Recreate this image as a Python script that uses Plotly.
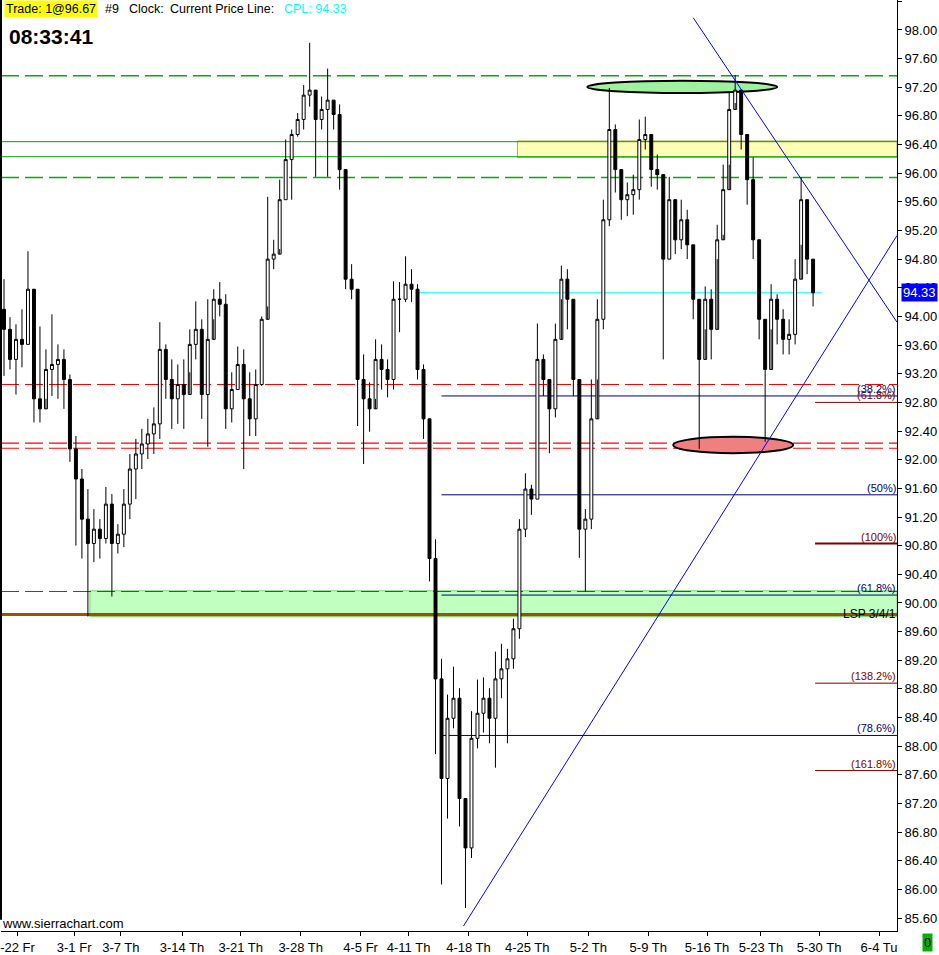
import plotly.graph_objects as go

# ---------------- data ----------------
first_open = 94.10
highs = [94.52, 93.99, 93.89, 94.10, 94.91, 94.24, 93.86, 93.54, 94.03, 93.61,
         93.54, 93.19, 92.33, 91.87, 91.59, 91.31, 91.17, 91.62, 91.52, 91.10,
         91.59, 92.08, 92.29, 92.43, 92.57, 92.73, 93.92, 93.61, 93.40, 93.33,
         93.40, 93.82, 94.21, 93.96, 94.24, 94.38, 94.48, 94.31, 93.22, 93.58,
         93.54, 93.22, 93.26, 94.00, 95.67, 95.07, 95.91, 96.47, 96.61, 96.84,
         97.23, 97.82, 97.16, 97.07, 97.46, 97.02, 96.96, 96.05, 94.73, 94.38,
         93.47, 93.08, 93.68, 93.61, 93.40, 94.49, 94.48, 94.84, 94.66, 94.45,
         93.33, 92.43, 90.89, 89.22, 88.72, 89.11, 88.81, 87.27, 88.49, 88.93,
         88.96, 88.81, 89.32, 89.43, 89.36, 89.78, 91.17, 91.81, 91.65, 93.90,
         93.47, 93.12, 93.90, 94.71, 94.66, 94.24, 93.12, 91.31, 93.12, 94.24,
         95.63, 97.19, 96.68, 95.98, 95.87, 95.98, 96.75, 96.79, 96.33, 96.26,
         95.91, 95.95, 95.42, 95.63, 95.49, 95.00, 93.96, 94.42, 94.38, 95.28,
         96.12, 97.12, 97.37, 97.16, 96.26, 96.22, 94.80, 93.82, 94.45, 94.31,
         94.10, 93.96, 94.80, 95.94, 95.49, 94.80]
lows = [93.17, 93.26, 92.91, 93.29, 93.61, 92.52, 92.52, 92.85, 92.89, 92.85,
        92.71, 91.97, 90.80, 90.62, 89.81, 90.57, 90.62, 90.83, 90.09, 90.69,
        90.78, 91.17, 91.45, 91.87, 92.01, 92.08, 92.29, 92.85, 92.43, 92.50,
        92.43, 93.22, 93.40, 92.57, 92.18, 93.96, 94.00, 92.43, 92.52, 92.98,
        91.87, 92.33, 92.33, 93.03, 94.14, 94.66, 94.94, 95.63, 95.63, 96.51,
        96.61, 96.93, 95.95, 96.61, 95.95, 96.61, 95.77, 94.38, 94.24, 92.47,
        91.94, 92.39, 92.85, 92.98, 92.87, 92.98, 93.78, 94.20, 94.20, 93.12,
        92.29, 90.30, 87.89, 86.07, 86.99, 88.25, 86.88, 85.74, 86.44, 87.97,
        88.19, 88.04, 87.70, 88.67, 88.04, 89.08, 89.50, 90.92, 91.23, 91.45,
        92.89, 92.09, 92.59, 94.24, 93.82, 92.89, 90.63, 90.16, 91.03, 93.12,
        93.82, 95.26, 95.73, 95.35, 95.40, 95.42, 95.63, 96.33, 95.81, 95.77,
        93.40, 94.80, 94.87, 94.94, 94.80, 93.96, 92.15, 93.82, 93.40, 94.80,
        95.14, 96.12, 96.98, 96.33, 95.56, 94.80, 93.68, 92.25, 93.82, 93.61,
        93.47, 93.47, 93.61, 95.00, 94.59, 94.14]
closes = [93.82, 93.40, 93.68, 93.61, 94.38, 92.85, 92.71, 93.26, 93.33, 93.40,
          93.12, 92.15, 91.73, 91.17, 90.83, 91.03, 90.90, 91.38, 90.83, 90.96,
          91.38, 91.87, 92.08, 92.22, 92.36, 92.50, 93.54, 93.12, 92.85, 93.05,
          92.91, 93.61, 93.82, 92.91, 93.68, 94.24, 94.17, 92.71, 92.98, 93.33,
          92.85, 92.57, 93.05, 93.96, 94.80, 94.87, 95.63, 96.19, 96.54, 96.75,
          97.09, 97.16, 96.75, 96.89, 97.02, 96.82, 96.05, 94.52, 94.38, 93.12,
          92.85, 92.71, 93.40, 93.26, 93.12, 94.24, 94.24, 94.45, 94.38, 93.26,
          92.57, 90.62, 88.94, 87.55, 88.39, 88.67, 87.27, 86.58, 88.11, 88.46,
          88.67, 88.39, 88.94, 89.08, 89.22, 89.64, 91.03, 91.59, 91.45, 93.40,
          93.12, 92.71, 93.68, 94.52, 94.24, 93.12, 91.03, 91.17, 92.57, 93.96,
          95.35, 96.61, 96.05, 95.63, 95.70, 95.77, 96.47, 96.54, 96.05, 95.98,
          94.80, 95.63, 95.07, 95.35, 95.00, 94.24, 93.40, 94.24, 93.82, 95.07,
          95.77, 96.89, 97.16, 96.54, 95.91, 95.07, 93.96, 93.26, 94.24, 93.96,
          93.68, 93.75, 94.52, 95.63, 94.80, 94.33]
opens = [first_open] + closes[:-1]
bar_index = list(range(len(closes)))

date_tick_pos = [2.25, 11.7, 19.5, 29.7, 39.5, 49.5, 59.5, 67.5, 77.5, 87.3,
                 97.5, 107.5, 117.3, 126.3, 136.0, 146.0]
date_tick_text = ["-22 Fr", "3-1 Fr", "3-7 Th", "3-14 Th", "3-21 Th", "3-28 Th",
                  "4-5 Fr", "4-11 Th", "4-18 Th", "4-25 Th", "5-2 Th", "5-9 Th",
                  "5-16 Th", "5-23 Th", "5-30 Th", "6-4 Tu"]

green_dashed_levels = [97.36, 95.94]
green_solid_levels = [96.44, 96.23]
red_dashed_levels = [93.05, 92.23, 92.16, 90.16]
current_price = 94.33
lsp_level = 89.84
fib_navy_levels = [92.89, 91.51, 90.11, 88.15]
fib_navy_labels = ["(38.2%)", "(50%)", "(61.8%)", "(78.6%)"]
fib_red_levels = [92.80, 90.83, 88.88, 87.66]
fib_red_labels = ["(61.8%)", "(100%)", "(138.2%)", "(161.8%)"]
green_zone = (90.17, 89.81)
yellow_zone = (96.45, 96.22)
top_ellipse = (97.29, 97.12)
bottom_ellipse = (92.32, 92.09)
trend_down = [(115.0, 98.17), (149.0, 93.92)]
trend_up = [(76.67, 85.49), (149.0, 95.13)]

# ---------------- layout constants ----------------
W, H = 939, 955
ML, MR, MT, MB = 0, 42, 0, 22
PW, PH = W - ML - MR, H - MT - MB
X_RANGE = [-0.5, 149.0]
Y_RANGE = [85.42, 98.418]
FONT = "Liberation Sans"
X0, X1 = X_RANGE

def px(xp):
    return xp / PW

def py(yp):
    return 1 - yp / PH

fig = go.Figure()
fig.add_trace(go.Candlestick(
    x=bar_index, open=opens, high=highs, low=lows, close=closes,
    increasing=dict(line=dict(color="black", width=1), fillcolor="white"),
    decreasing=dict(line=dict(color="black", width=1), fillcolor="black"),
    whiskerwidth=0, showlegend=False, hoverinfo="skip",
))

shapes = []
def hline(y, x0, x1, color, width=1, dash=None):
    ln = dict(color=color, width=width)
    if dash:
        ln["dash"] = dash
    shapes.append(dict(type="line", xref="x", yref="y", x0=x0, x1=x1, y0=y, y1=y,
                       line=ln, layer="below"))

# zones
shapes.append(dict(type="rect", xref="x", yref="y", x0=14.33, x1=X1,
                   y0=green_zone[1], y1=green_zone[0], fillcolor="#c0ffc0",
                   line=dict(color="#70e070", width=1), layer="below"))
shapes.append(dict(type="rect", xref="x", yref="y", x0=85.67, x1=X1,
                   y0=yellow_zone[1], y1=yellow_zone[0], fillcolor="#ffffb8",
                   line=dict(color="#b0b040", width=1), layer="below"))
for lv in green_dashed_levels:
    hline(lv, X0, X1, "#00b000", 1.4, "18px,6px")
for lv in green_solid_levels:
    hline(lv, X0, X1, "#00a000", 1)
for lv in red_dashed_levels:
    hline(lv, X0, X1, "#ff0000", 1.2, "18px,6px")
hline(lsp_level, X0, X1, "#a05000", 3)
hline(current_price, 68.67, 136.5, "#00ffff", 1)
for lv in fib_navy_levels:
    hline(lv, 73.0, X1, "#000080", 1)
for k, lv in enumerate(fib_red_levels):
    hline(lv, 135.33, X1, "#800000", 2 if k == 1 else 1)
# ellipses
shapes.append(dict(type="circle", xref="x", yref="y", x0=97.33, x1=129.0,
                   y0=top_ellipse[1], y1=top_ellipse[0], fillcolor="#9ef29e",
                   line=dict(color="black", width=2), layer="below"))
shapes.append(dict(type="circle", xref="x", yref="y", x0=111.67, x1=131.67,
                   y0=bottom_ellipse[1], y1=bottom_ellipse[0], fillcolor="#f08080",
                   line=dict(color="black", width=2), layer="below"))
# trend lines
for tl in (trend_down, trend_up):
    shapes.append(dict(type="line", xref="x", yref="y", x0=tl[0][0], y0=tl[0][1],
                       x1=tl[1][0], y1=tl[1][1], line=dict(color="#0000ff", width=1)))
# left border
shapes.append(dict(type="line", xref="paper", yref="paper", x0=0, x1=0, y0=0.012, y1=1,
                   line=dict(color="black", width=2)))

ann = []
def text(x, y, t, size=12.5, color="black", xanchor="left", yanchor="middle",
         xref="paper", yref="paper", bg=None, pad=0):
    d = dict(x=x, y=y, text=t, xref=xref, yref=yref, showarrow=False,
             xanchor=xanchor, yanchor=yanchor, borderpad=pad,
             font=dict(family=FONT, size=size, color=color))
    if bg:
        d["bgcolor"] = bg
    ann.append(d)

text(px(3), py(9.5), "Trade: 1@96.67", bg="#ffff00", pad=1)
text(px(103), py(9.5), "#9")
text(px(127), py(9.5), "Clock:")
text(px(168), py(9.5), "Current Price Line:")
text(px(282), py(9.5), "CPL: 94.33", color="#00ffff")
text(px(7), py(37), "<b>08:33:41</b>", size=21)
text(px(0), py(925), "www.sierrachart.com", size=13)

for lv, lb in zip(fib_navy_levels, fib_navy_labels):
    text(X1, lv, lb, size=11, color="#000080", xanchor="right",
         yanchor="bottom", xref="x", yref="y")
for lv, lb in zip(fib_red_levels, fib_red_labels):
    text(X1, lv, lb, size=11, color="#800000", xanchor="right",
         yanchor="bottom", xref="x", yref="y")
text(X1, lsp_level, "LSP 3/4/1", size=12, xanchor="right", xref="x", yref="y")

text(px(901), current_price, "94.33", size=13, color="white", bg="#0000ff",
     yref="y", pad=1)
text(px(922), py(945), "0", size=13, color="black", bg="#00b000", pad=1)

fig.update_layout(
    width=W, height=H, margin=dict(l=ML, r=MR, t=MT, b=MB),
    paper_bgcolor="white", plot_bgcolor="white",
    shapes=shapes, annotations=ann, showlegend=False, hovermode=False,
    font=dict(family=FONT, size=13, color="black"),
    xaxis=dict(range=X_RANGE, tickmode="array", tickvals=date_tick_pos,
               ticktext=date_tick_text, ticks="outside", ticklen=4, tickcolor="black",
               showline=True, linecolor="black", linewidth=1, showgrid=False,
               zeroline=False, rangeslider=dict(visible=False),
               ticklabeloverflow="allow",
               tickfont=dict(family=FONT, size=13, color="black")),
    yaxis=dict(range=Y_RANGE, side="right", tick0=85.6, dtick=0.4, tickformat=".2f",
               ticks="outside", ticklen=4, tickcolor="black", showline=True,
               linecolor="black", linewidth=1, showgrid=False, zeroline=False,
               tickfont=dict(family=FONT, size=13, color="black")),
)

fig.write_html("out.html", config={"displayModeBar": False},
               post_script="document.body.style.margin='0';document.body.style.overflow='hidden';")
